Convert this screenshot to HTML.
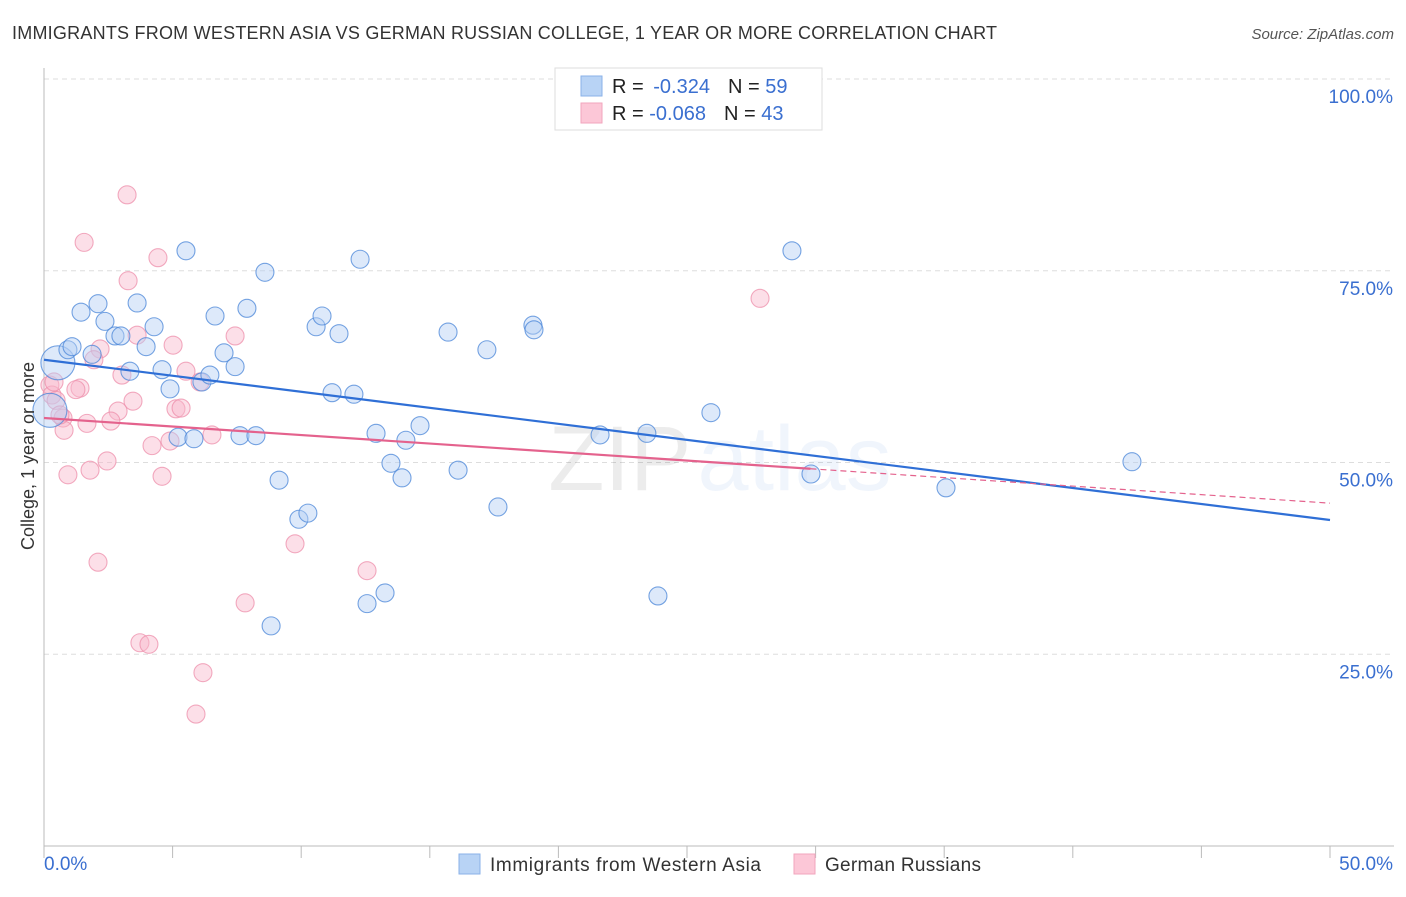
<!DOCTYPE html>
<html><head><meta charset="utf-8"><style>
body{margin:0;background:#fff;font-family:"Liberation Sans",sans-serif}
svg text{font-family:"Liberation Sans",sans-serif}
</style></head><body>
<svg id="chart" width="1406" height="892" viewBox="0 0 1406 892" xmlns="http://www.w3.org/2000/svg">
<text x="12" y="39" font-size="18" fill="#333" textLength="985">IMMIGRANTS FROM WESTERN ASIA VS GERMAN RUSSIAN COLLEGE, 1 YEAR OR MORE CORRELATION CHART</text>
<text x="1394" y="39" font-size="15" fill="#555" text-anchor="end" font-style="italic">Source: ZipAtlas.com</text>
<g id="grid"></g>
<g id="axes"></g>
<text x="720" y="490" font-size="92" text-anchor="middle" fill="#000" opacity="0.07" font-family="Liberation Serif"><tspan>ZIP</tspan><tspan fill="#3b7dd8" opacity="1.6" font-family="Liberation Sans" dx="6">atlas</tspan></text>
<g id="pts"></g>
<g id="trends"></g>
<text transform="translate(34,456) rotate(-90)" font-size="18" fill="#333" text-anchor="middle">College, 1 year or more</text>
<g>
<rect x="555" y="68" width="267" height="62" fill="#fff" stroke="#ddd"/>
<rect x="581" y="76" width="21" height="20" fill="#b8d3f5" stroke="#8ab2e8"/>
<rect x="581" y="103" width="21" height="20" fill="#fcc7d7" stroke="#f2a6bd"/>
<text x="612" y="93" font-size="20" fill="#222">R = <tspan fill="#3a6fd0" dx="4">-0.324</tspan><tspan dx="18">N = </tspan><tspan fill="#3a6fd0">59</tspan></text>
<text x="612" y="120" font-size="20" fill="#222">R = <tspan fill="#3a6fd0">-0.068</tspan><tspan dx="18">N = </tspan><tspan fill="#3a6fd0">43</tspan></text>
</g>
<g>
<rect x="459" y="854" width="21" height="20" fill="#b8d3f5" stroke="#8ab2e8"/>
<text x="490" y="871" font-size="19" fill="#333" textLength="271">Immigrants from Western Asia</text>
<rect x="794" y="854" width="21" height="20" fill="#fcc7d7" stroke="#f2a6bd"/>
<text x="825" y="871" font-size="19" fill="#333" textLength="156">German Russians</text>
</g>
</svg>
<script>
const blueX=[0.54,0.93,1.09,1.44,2.10,2.37,2.76,2.99,1.87,3.34,3.62,3.97,4.28,4.59,4.90,5.21,5.52,5.83,6.14,6.45,6.65,7.00,7.43,7.62,7.89,8.24,8.59,9.14,8.83,9.91,10.26,10.58,10.81,11.47,11.20,12.05,12.29,12.56,12.91,13.26,13.49,13.92,14.07,14.62,15.71,16.10,17.22,17.65,19.01,19.05,21.62,23.44,23.87,25.93,29.08,29.82,35.07,42.30,0.23];
const blueY=[63.0,64.7,65.1,69.6,70.7,68.4,66.5,66.5,64.1,61.9,70.8,65.1,67.7,62.1,59.6,53.3,77.6,53.1,60.5,61.4,69.1,64.3,62.5,53.5,70.1,53.5,74.8,47.7,28.7,42.6,43.4,67.7,69.1,66.8,59.1,58.9,76.5,31.6,53.8,33.0,49.9,48.0,52.9,54.8,67.0,49.0,64.7,44.2,67.9,67.3,53.6,53.8,32.6,56.5,77.6,48.5,46.7,50.1,56.8];
const pinkX=[3.23,1.56,4.43,3.27,27.84,7.43,5.02,3.62,2.18,1.94,0.23,0.31,0.47,1.40,1.24,3.03,3.46,5.52,6.07,5.13,5.33,2.88,2.60,1.67,0.74,0.78,6.53,4.20,4.90,2.45,1.79,0.93,4.59,9.76,12.56,2.10,7.82,3.73,4.08,6.18,5.91,0.62,0.39];
const pinkY=[84.9,78.7,76.7,73.7,71.4,66.5,65.3,66.6,64.8,63.4,60.1,58.8,58.1,59.7,59.5,61.4,58.0,61.9,60.5,57.0,57.1,56.7,55.4,55.1,55.8,54.2,53.6,52.2,52.8,50.2,49.0,48.4,48.2,39.4,35.9,37.0,31.7,26.5,26.3,22.6,17.2,56.2,60.5];
const blueTrend=[63.4,42.5];
const pinkTrend=[55.8,44.7];
const pinkSolidEnd=29.8;
const yTicks=[100,75,50,25];
const yTickLabels=["100.0%","75.0%","50.0%","25.0%"];
const xLabels=["0.0%","50.0%"];
const NS="http://www.w3.org/2000/svg";
const X=v=>44+v/50*1286, Y=v=>846-v/100*767;
function mk(t,a,p){const e=document.createElementNS(NS,t);for(const k in a)e.setAttribute(k,a[k]);p.appendChild(e);return e;}
const grid=document.getElementById('grid'),axes=document.getElementById('axes');
yTicks.forEach((t,i)=>{
  const l=mk('line',{x1:44,x2:1394,y1:Y(t),y2:Y(t),stroke:'#ddd','stroke-dasharray':'5,4'},grid);
  
  
  const tx=mk('text',{x:1393,y:Y(t)+24,'font-size':19,fill:'#3a6fd0','text-anchor':'end'},axes);
  tx.textContent=yTickLabels[i];
  
  
});
let a=mk('line',{x1:44,x2:44,y1:68,y2:846,stroke:'#bbb'},axes);
a=mk('line',{x1:44,x2:1394,y1:846,y2:846,stroke:'#bbb'},axes);
for(let i=0;i<=10;i++){
  const t=mk('line',{x1:X(i*5),x2:X(i*5),y1:846,y2:858,stroke:'#bbb'},axes);
  
  
}
const xl0=mk('text',{x:44,y:870,'font-size':19,fill:'#3a6fd0'},axes);xl0.textContent=xLabels[0];


const xl1=mk('text',{x:1393,y:870,'font-size':19,fill:'#3a6fd0','text-anchor':'end'},axes);xl1.textContent=xLabels[1];


const pts=document.getElementById('pts');
function dots(xs,ys,fill,stroke,name,bigIdx){
  xs.forEach((x,i)=>{
    const r=bigIdx.includes(i)?17:9;
    const c=mk('circle',{cx:X(x),cy:Y(ys[i]),r:r,fill:fill,'fill-opacity':0.45,stroke:stroke,'stroke-width':1.1,'stroke-opacity':0.75},pts);
    
    
  });
}
dots(pinkX,pinkY,'#f9b9cc','#ee8fab','german-russians-point',[]);
dots(blueX,blueY,'#b3cff3','#4a86d8','western-asia-point',[0,58]);
const tr=document.getElementById('trends');
const pinkAt=x=>pinkTrend[0]+(pinkTrend[1]-pinkTrend[0])*x/50;
let l1=mk('line',{x1:X(0),y1:Y(blueTrend[0]),x2:X(50),y2:Y(blueTrend[1]),stroke:'#2f6fd6','stroke-width':2.2},tr);


let l2=mk('line',{x1:X(0),y1:Y(pinkTrend[0]),x2:X(pinkSolidEnd),y2:Y(pinkAt(pinkSolidEnd)),stroke:'#e4628d','stroke-width':2.2},tr);


let l3=mk('line',{x1:X(pinkSolidEnd),y1:Y(pinkAt(pinkSolidEnd)),x2:X(50),y2:Y(pinkTrend[1]),stroke:'#e4628d','stroke-width':1.2,'stroke-dasharray':'6,4'},tr);


</script>
</body></html>
